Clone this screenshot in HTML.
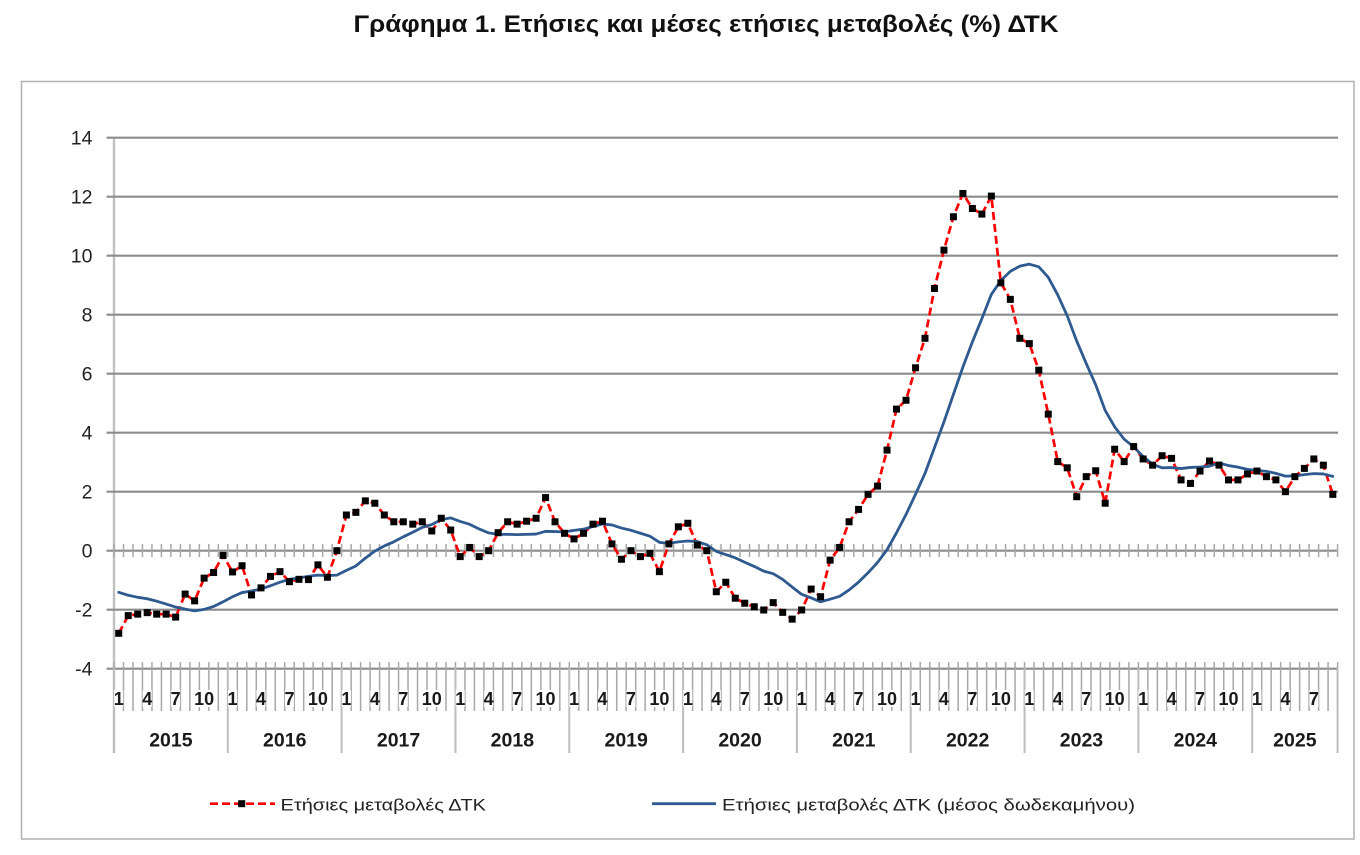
<!DOCTYPE html>
<html><head><meta charset="utf-8">
<style>
html,body{margin:0;padding:0;background:#fff;}
svg{display:block;}
text{font-family:"Liberation Sans","Noto Sans CJK SC",sans-serif;}
</style></head>
<body>
<svg width="1360" height="855" viewBox="0 0 1360 855" xmlns="http://www.w3.org/2000/svg">
<defs>
<marker id="sq" markerWidth="8" markerHeight="8" refX="4" refY="4" markerUnits="userSpaceOnUse" orient="0">
<rect x="0.5" y="0.5" width="7" height="7" fill="#000"/>
</marker>
</defs>
<rect x="0" y="0" width="1360" height="855" fill="#fff"/>
<text x="706" y="32" text-anchor="middle" font-size="24" font-weight="bold" fill="#111" textLength="705" lengthAdjust="spacingAndGlyphs">Γράφημα 1. Ετήσιες και μέσες ετήσιες μεταβολές (%) ΔΤΚ</text>
<rect x="21.5" y="81.5" width="1332.5" height="757.5" fill="none" stroke="#b0b0b0" stroke-width="1.5"/>

<!-- y axis line -->
<line x1="114" y1="137.7" x2="114" y2="753" stroke="#c0c0c0" stroke-width="2.4"/>

<!-- gridlines -->
<g stroke="#8c8c8c" stroke-width="2.2">
<line x1="106.5" y1="137.7" x2="1338" y2="137.7"/>
<line x1="106.5" y1="196.7" x2="1338" y2="196.7"/>
<line x1="106.5" y1="255.7" x2="1338" y2="255.7"/>
<line x1="106.5" y1="314.7" x2="1338" y2="314.7"/>
<line x1="106.5" y1="373.7" x2="1338" y2="373.7"/>
<line x1="106.5" y1="432.7" x2="1338" y2="432.7"/>
<line x1="106.5" y1="491.7" x2="1338" y2="491.7"/>
<line x1="106.5" y1="550.7" x2="1338" y2="550.7"/>
<line x1="106.5" y1="609.7" x2="1338" y2="609.7"/>
<line x1="106.5" y1="668.7" x2="1338" y2="668.7"/>
</g>
<!-- tick marks on zero line -->
<line x1="113.25" y1="550.5" x2="1338.5" y2="550.5" stroke="#a8a8a8" stroke-width="13" stroke-dasharray="1.5 7.985"/>
<!-- ticks / category lines at -4 -->
<line x1="113.25" y1="686.5" x2="1338.5" y2="686.5" stroke="#a8a8a8" stroke-width="49" stroke-dasharray="1.5 7.985"/>
<!-- year separators -->
<g stroke="#bdbdbd" stroke-width="2">
<line x1="114" y1="668" x2="114" y2="753"/>
<line x1="227.82" y1="668" x2="227.82" y2="753"/>
<line x1="341.64" y1="668" x2="341.64" y2="753"/>
<line x1="455.46" y1="668" x2="455.46" y2="753"/>
<line x1="569.28" y1="668" x2="569.28" y2="753"/>
<line x1="683.1" y1="668" x2="683.1" y2="753"/>
<line x1="796.92" y1="668" x2="796.92" y2="753"/>
<line x1="910.74" y1="668" x2="910.74" y2="753"/>
<line x1="1024.56" y1="668" x2="1024.56" y2="753"/>
<line x1="1138.38" y1="668" x2="1138.38" y2="753"/>
<line x1="1252.2" y1="668" x2="1252.2" y2="753"/>
<line x1="1337.6" y1="668" x2="1337.6" y2="753"/>
</g>

<!-- label backgrounds -->
<g fill="#fff">
<rect x="114.2" y="690" width="9" height="17"/><rect x="142.7" y="690" width="9" height="17"/><rect x="171.1" y="690" width="9" height="17"/><rect x="194.6" y="690" width="19" height="17"/>
<rect x="228.1" y="690" width="9" height="17"/><rect x="256.5" y="690" width="9" height="17"/><rect x="285" y="690" width="9" height="17"/><rect x="308.4" y="690" width="19" height="17"/>
<rect x="341.9" y="690" width="9" height="17"/><rect x="370.3" y="690" width="9" height="17"/><rect x="398.8" y="690" width="9" height="17"/><rect x="422.2" y="690" width="19" height="17"/>
<rect x="455.7" y="690" width="9" height="17"/><rect x="484.2" y="690" width="9" height="17"/><rect x="512.6" y="690" width="9" height="17"/><rect x="536.1" y="690" width="19" height="17"/>
<rect x="569.5" y="690" width="9" height="17"/><rect x="598" y="690" width="9" height="17"/><rect x="626.4" y="690" width="9" height="17"/><rect x="649.9" y="690" width="19" height="17"/>
<rect x="683.3" y="690" width="9" height="17"/><rect x="711.8" y="690" width="9" height="17"/><rect x="740.3" y="690" width="9" height="17"/><rect x="763.7" y="690" width="19" height="17"/>
<rect x="797.2" y="690" width="9" height="17"/><rect x="825.6" y="690" width="9" height="17"/><rect x="854.1" y="690" width="9" height="17"/><rect x="877.5" y="690" width="19" height="17"/>
<rect x="911" y="690" width="9" height="17"/><rect x="939.4" y="690" width="9" height="17"/><rect x="967.9" y="690" width="9" height="17"/><rect x="991.4" y="690" width="19" height="17"/>
<rect x="1024.8" y="690" width="9" height="17"/><rect x="1053.3" y="690" width="9" height="17"/><rect x="1081.7" y="690" width="9" height="17"/><rect x="1105.2" y="690" width="19" height="17"/>
<rect x="1138.6" y="690" width="9" height="17"/><rect x="1167.1" y="690" width="9" height="17"/><rect x="1195.5" y="690" width="9" height="17"/><rect x="1219" y="690" width="19" height="17"/>
<rect x="1252.4" y="690" width="9" height="17"/><rect x="1280.9" y="690" width="9" height="17"/><rect x="1309.4" y="690" width="9" height="17"/>
</g>

<!-- y labels -->
<g font-size="19.5" fill="#222" text-anchor="end">
<text x="92.5" y="144.7">14</text>
<text x="92.5" y="203.7">12</text>
<text x="92.5" y="262.7">10</text>
<text x="92.5" y="321.7">8</text>
<text x="92.5" y="380.7">6</text>
<text x="92.5" y="439.7">4</text>
<text x="92.5" y="498.7">2</text>
<text x="92.5" y="557.7">0</text>
<text x="92.5" y="616.7">-2</text>
<text x="92.5" y="675.7">-4</text>
</g>

<!-- month labels -->
<g font-size="18" font-weight="bold" fill="#1a1a1a" text-anchor="middle">
<text x="118.74" y="704.8">1</text><text x="147.2" y="704.8">4</text><text x="175.65" y="704.8">7</text><text x="204.11" y="704.8">10</text>
<text x="232.56" y="704.8">1</text><text x="261.02" y="704.8">4</text><text x="289.47" y="704.8">7</text><text x="317.93" y="704.8">10</text>
<text x="346.38" y="704.8">1</text><text x="374.84" y="704.8">4</text><text x="403.29" y="704.8">7</text><text x="431.75" y="704.8">10</text>
<text x="460.2" y="704.8">1</text><text x="488.66" y="704.8">4</text><text x="517.11" y="704.8">7</text><text x="545.57" y="704.8">10</text>
<text x="574.02" y="704.8">1</text><text x="602.48" y="704.8">4</text><text x="630.93" y="704.8">7</text><text x="659.39" y="704.8">10</text>
<text x="687.84" y="704.8">1</text><text x="716.3" y="704.8">4</text><text x="744.75" y="704.8">7</text><text x="773.21" y="704.8">10</text>
<text x="801.66" y="704.8">1</text><text x="830.12" y="704.8">4</text><text x="858.57" y="704.8">7</text><text x="887.03" y="704.8">10</text>
<text x="915.48" y="704.8">1</text><text x="943.94" y="704.8">4</text><text x="972.39" y="704.8">7</text><text x="1000.85" y="704.8">10</text>
<text x="1029.3" y="704.8">1</text><text x="1057.76" y="704.8">4</text><text x="1086.21" y="704.8">7</text><text x="1114.67" y="704.8">10</text>
<text x="1143.12" y="704.8">1</text><text x="1171.58" y="704.8">4</text><text x="1200.03" y="704.8">7</text><text x="1228.49" y="704.8">10</text>
<text x="1256.94" y="704.8">1</text><text x="1285.4" y="704.8">4</text><text x="1313.85" y="704.8">7</text>
</g>

<!-- year labels -->
<g font-size="19.5" font-weight="bold" fill="#1a1a1a" text-anchor="middle">
<text x="170.91" y="746.5">2015</text>
<text x="284.73" y="746.5">2016</text>
<text x="398.55" y="746.5">2017</text>
<text x="512.37" y="746.5">2018</text>
<text x="626.19" y="746.5">2019</text>
<text x="740.01" y="746.5">2020</text>
<text x="853.83" y="746.5">2021</text>
<text x="967.65" y="746.5">2022</text>
<text x="1081.47" y="746.5">2023</text>
<text x="1195.29" y="746.5">2024</text>
<text x="1294.88" y="746.5">2025</text>
</g>

<!-- red series (dashed) -->
<path fill="none" stroke="#ff0000" stroke-width="2.7" stroke-dasharray="8 4" stroke-linejoin="round" d="M118.74,633.3 L128.23,615.6 L137.71,614.13 L147.2,612.65 L156.68,614.13 L166.17,614.13 L175.65,617.08 L185.14,594.07 L194.62,600.85 L204.11,578.14 L213.59,572.53 L223.08,555.42 L232.56,571.94 L242.05,565.75 L251.53,594.95 L261.02,587.87 L270.5,576.37 L279.99,571.65 L289.47,581.68 L298.96,579.32 L308.44,579.61 L317.93,564.86 L327.41,577.25 L336.9,550.7 L346.38,515.01 L355.87,512.35 L365.35,500.85 L374.84,503.21 L384.32,515.01 L393.81,521.79 L403.29,521.79 L412.78,524.15 L422.26,521.79 L431.75,530.94 L441.23,518.25 L450.72,530.05 L460.2,556.6 L469.69,547.46 L479.17,556.6 L488.66,550.7 L498.14,532.7 L507.63,521.79 L517.11,524.15 L526.6,521.2 L536.08,518.25 L545.57,497.6 L555.05,521.79 L564.54,533.3 L574.02,538.9 L583.51,533.3 L592.99,524.15 L602.48,521.2 L611.96,543.92 L621.45,559.26 L630.93,550.7 L640.42,556.6 L649.9,553.36 L659.39,571.65 L668.87,543.92 L678.36,526.81 L687.84,523.27 L697.33,545.1 L706.81,550.7 L716.3,591.71 L725.78,582.27 L735.27,598.2 L744.75,603.21 L754.24,606.75 L763.72,610 L773.21,602.62 L782.69,612.36 L792.18,619.14 L801.66,610 L811.15,589.05 L820.63,596.72 L830.12,560.14 L839.6,547.46 L849.09,521.79 L858.57,509.4 L868.06,494.36 L877.54,486.1 L887.03,450.1 L896.51,409.1 L906,400.25 L915.48,367.8 L924.97,338.3 L934.45,288.45 L943.94,250.1 L953.42,216.76 L962.91,193.46 L972.39,208.5 L981.88,214.1 L991.36,196.11 L1000.85,282.84 L1010.33,299.36 L1019.82,338.3 L1029.3,343.61 L1038.79,370.16 L1048.27,414.12 L1057.76,461.61 L1067.24,467.81 L1076.73,496.72 L1086.21,476.66 L1095.7,470.76 L1105.18,503.21 L1114.67,449.22 L1124.15,461.61 L1133.64,446.57 L1143.12,458.96 L1152.61,465.15 L1162.09,455.71 L1171.58,458.37 L1181.06,479.9 L1190.55,483.44 L1200.03,471.05 L1209.52,461.02 L1219,465.15 L1228.49,479.9 L1237.97,479.9 L1247.46,474 L1256.94,471.05 L1266.43,476.66 L1275.91,479.9 L1285.4,491.7 L1294.88,476.66 L1304.37,468.4 L1313.85,458.96 L1323.34,465.15 L1332.82,494.36"/>

<!-- blue series -->
<polyline fill="none" stroke="#2f5a8f" stroke-width="2.8" stroke-linejoin="round" stroke-linecap="round" points="118.74,592.3 128.23,595.25 137.71,597.31 147.2,598.79 156.68,601.15 166.17,604.1 175.65,607.05 185.14,609.11 194.62,610.88 204.11,609.41 213.59,606.46 223.08,601.82 232.56,596.72 242.05,592.56 251.53,590.97 261.02,588.9 270.5,585.75 279.99,582.21 289.47,579.26 298.96,578.05 308.44,576.28 317.93,575.16 327.41,575.57 336.9,575.16 346.38,570.41 355.87,565.98 365.35,558.13 374.84,551.07 384.32,545.95 393.81,541.79 403.29,536.81 412.78,532.2 422.26,527.4 431.75,524.56 441.23,519.64 450.72,517.93 460.2,521.41 469.69,524.33 479.17,528.96 488.66,532.91 498.14,534.39 507.63,534.39 517.11,534.59 526.6,534.36 536.08,534.06 545.57,531.29 555.05,531.58 564.54,531.85 574.02,530.37 583.51,529.19 592.99,526.48 602.48,524.03 611.96,524.95 621.45,528.07 630.93,530.29 640.42,533.24 649.9,536.16 659.39,542.35 668.87,543.4 678.36,541.85 687.84,540.97 697.33,541.56 706.81,544.8 716.3,551.41 725.78,554.61 735.27,557.85 744.75,562.23 754.24,566.42 763.72,571.14 773.21,573.71 782.69,579.4 792.18,587.1 801.66,594.33 811.15,597.99 820.63,601.82 830.12,599.2 839.6,596.31 849.09,589.94 858.57,582.12 868.06,572.77 877.54,562.43 887.03,549.73 896.51,532.78 906,514.53 915.48,494.36 924.97,473.47 934.45,447.77 943.94,421.93 953.42,394.38 962.91,367 972.39,341.93 981.88,318.59 991.36,294.4 1000.85,280.48 1010.33,271.34 1019.82,266.17 1029.3,264.17 1038.79,266.82 1048.27,277.29 1057.76,294.91 1067.24,315.82 1076.73,341.1 1086.21,363.43 1095.7,384.82 1105.18,410.43 1114.67,426.8 1124.15,439.19 1133.64,446.83 1143.12,456.45 1152.61,464.35 1162.09,467.83 1171.58,467.57 1181.06,468.57 1190.55,467.45 1200.03,466.98 1209.52,466.18 1219,463 1228.49,465.56 1237.97,467.1 1247.46,469.37 1256.94,470.37 1266.43,471.35 1275.91,473.35 1285.4,476.12 1294.88,475.86 1304.37,474.62 1313.85,473.62 1323.34,473.94 1332.82,476.39"/>

<!-- red markers -->
<path fill="none" stroke="none" marker-start="url(#sq)" marker-mid="url(#sq)" marker-end="url(#sq)" d="M118.74,633.3 L128.23,615.6 L137.71,614.13 L147.2,612.65 L156.68,614.13 L166.17,614.13 L175.65,617.08 L185.14,594.07 L194.62,600.85 L204.11,578.14 L213.59,572.53 L223.08,555.42 L232.56,571.94 L242.05,565.75 L251.53,594.95 L261.02,587.87 L270.5,576.37 L279.99,571.65 L289.47,581.68 L298.96,579.32 L308.44,579.61 L317.93,564.86 L327.41,577.25 L336.9,550.7 L346.38,515.01 L355.87,512.35 L365.35,500.85 L374.84,503.21 L384.32,515.01 L393.81,521.79 L403.29,521.79 L412.78,524.15 L422.26,521.79 L431.75,530.94 L441.23,518.25 L450.72,530.05 L460.2,556.6 L469.69,547.46 L479.17,556.6 L488.66,550.7 L498.14,532.7 L507.63,521.79 L517.11,524.15 L526.6,521.2 L536.08,518.25 L545.57,497.6 L555.05,521.79 L564.54,533.3 L574.02,538.9 L583.51,533.3 L592.99,524.15 L602.48,521.2 L611.96,543.92 L621.45,559.26 L630.93,550.7 L640.42,556.6 L649.9,553.36 L659.39,571.65 L668.87,543.92 L678.36,526.81 L687.84,523.27 L697.33,545.1 L706.81,550.7 L716.3,591.71 L725.78,582.27 L735.27,598.2 L744.75,603.21 L754.24,606.75 L763.72,610 L773.21,602.62 L782.69,612.36 L792.18,619.14 L801.66,610 L811.15,589.05 L820.63,596.72 L830.12,560.14 L839.6,547.46 L849.09,521.79 L858.57,509.4 L868.06,494.36 L877.54,486.1 L887.03,450.1 L896.51,409.1 L906,400.25 L915.48,367.8 L924.97,338.3 L934.45,288.45 L943.94,250.1 L953.42,216.76 L962.91,193.46 L972.39,208.5 L981.88,214.1 L991.36,196.11 L1000.85,282.84 L1010.33,299.36 L1019.82,338.3 L1029.3,343.61 L1038.79,370.16 L1048.27,414.12 L1057.76,461.61 L1067.24,467.81 L1076.73,496.72 L1086.21,476.66 L1095.7,470.76 L1105.18,503.21 L1114.67,449.22 L1124.15,461.61 L1133.64,446.57 L1143.12,458.96 L1152.61,465.15 L1162.09,455.71 L1171.58,458.37 L1181.06,479.9 L1190.55,483.44 L1200.03,471.05 L1209.52,461.02 L1219,465.15 L1228.49,479.9 L1237.97,479.9 L1247.46,474 L1256.94,471.05 L1266.43,476.66 L1275.91,479.9 L1285.4,491.7 L1294.88,476.66 L1304.37,468.4 L1313.85,458.96 L1323.34,465.15 L1332.82,494.36"/>

<!-- legend -->
<line x1="210" y1="803.7" x2="275" y2="803.7" stroke="#ff0000" stroke-width="2.7" stroke-dasharray="8 4"/>
<rect x="238.2" y="800.2" width="7" height="7" fill="#000"/>
<text x="280.5" y="810.5" font-size="17" fill="#222" textLength="205.5" lengthAdjust="spacingAndGlyphs">Ετήσιες μεταβολές ΔΤΚ</text>
<line x1="652" y1="803.7" x2="716" y2="803.7" stroke="#2f5a8f" stroke-width="2.8"/>
<text x="722" y="810.5" font-size="17" fill="#222" textLength="413" lengthAdjust="spacingAndGlyphs">Ετήσιες μεταβολές ΔΤΚ (μέσος δωδεκαμήνου)</text>
</svg>
</body></html>
